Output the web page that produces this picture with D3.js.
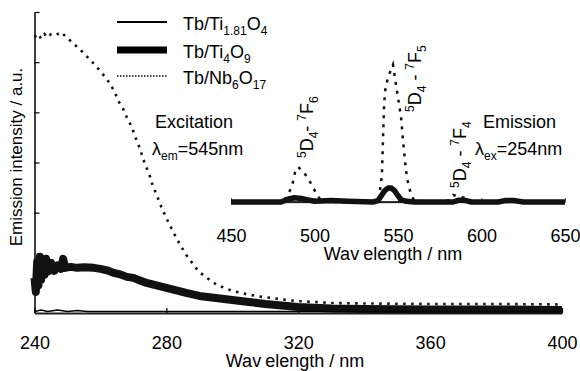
<!DOCTYPE html>
<html>
<head>
<meta charset="utf-8">
<script src="https://cdn.jsdelivr.net/npm/d3@7"></script>
<style>
    body { margin: 0; background: #fff; }
    svg text { font-family: "Liberation Sans", Arial, Helvetica, sans-serif; fill: #000; }
</style>
</head>
<body>
<svg id="chart" width="580" height="371"></svg>
<script>
// excitation spectra (lambda_em = 545 nm), main axes
const excTicksX = [240, 280, 320, 360, 400];
const excTicksY = [1, 2, 3, 4, 5, 6];
const excNb6O17 = [[240, 5.50], [241, 5.57], [242, 5.47], [243, 5.56], [244, 5.49], [245, 5.56], [246.5, 5.54],
    [248, 5.60], [250, 5.48], [252, 5.36], [254, 5.24], [257, 5.04], [260.5, 4.78], [262.6, 4.60], [264.4, 4.40],
    [265.3, 4.24], [266.8, 4.08], [268, 3.90], [269.5, 3.71], [270.7, 3.49], [271.9, 3.29], [273.4, 2.99],
    [274.9, 2.75], [275.8, 2.55], [277.3, 2.31], [278.5, 2.11], [280, 1.89], [281.8, 1.65], [283.9, 1.39],
    [286, 1.16], [287.8, 1.00], [289.9, 0.82], [292.3, 0.70], [295.3, 0.56], [300, 0.44], [304, 0.38],
    [308, 0.33], [314, 0.28], [319, 0.24], [325, 0.22], [330, 0.20], [340, 0.19], [360, 0.18], [380, 0.18], [400, 0.17]];
const excTi4O9 = [[240, 0.70], [240.4, 0.42], [240.8, 1.02], [241.2, 0.55], [241.6, 1.12], [242, 0.66], [242.5, 1.05],
    [243, 0.76], [243.5, 1.08], [244, 0.82], [245, 1.00], [246, 0.84], [247, 0.95], [248, 0.88], [248.7, 1.08],
    [249.3, 0.90], [251, 0.92], [253, 0.90], [255, 0.91], [258, 0.90], [260, 0.88], [262, 0.85], [264, 0.80],
    [266, 0.77], [268, 0.72], [270, 0.70], [272, 0.65], [274, 0.60], [277, 0.55], [280, 0.50], [283, 0.45],
    [286, 0.40], [290, 0.34], [295, 0.30], [300, 0.26], [305, 0.22], [310, 0.18], [315, 0.15], [320, 0.12],
    [330, 0.09], [340, 0.08], [360, 0.07], [380, 0.07], [400, 0.06]];
const excTi181O4 = [[240, 0.03], [242, 0.06], [244, 0.03], [247, 0.06], [250, 0.03], [253, 0.05], [256, 0.03],
    [300, 0.03], [400, 0.03]];

// emission spectra (lambda_ex = 254 nm), inset axes
const emTicksX = [450, 500, 550, 600, 650];
const emNb6O17 = [[450, 0], [478, 0], [481, 0.01], [483, 0.03], [486.5, 0.11], [488.3, 0.21], [490.1, 0.25],
    [493.1, 0.22], [495.5, 0.18], [498.5, 0.12], [501.5, 0.05], [504, 0.01], [510, 0], [535, 0], [537, 0.01],
    [538.6, 0.03], [539.2, 0.08], [540.4, 0.20], [541, 0.44], [541.6, 0.67], [542.2, 0.79], [544, 0.89],
    [547, 0.98], [549.4, 0.79], [551.8, 0.61], [553, 0.44], [554.2, 0.29], [555.4, 0.17], [557.2, 0.08],
    [559.6, 0.01], [570, 0], [580, 0.01], [583, 0.05], [586, 0.04], [590, 0.03], [594, 0], [650, 0]];
const emTi4O9 = [[450, 0], [480, 0], [484, 0.02], [488, 0.03], [492, 0.025], [496, 0.015], [500, 0.005],
    [510, 0.01], [520, 0.005], [535, 0], [538, 0.01], [540, 0.045], [542, 0.08], [544, 0.10], [546, 0.10],
    [548, 0.08], [550, 0.045], [552, 0.015], [555, 0.005], [560, 0], [583, 0], [586, 0.012], [590, 0.012],
    [594, 0], [610, 0], [614, 0.01], [620, 0.01], [625, 0], [650, 0]];
const emTi181O4 = [[450, 0], [650, 0]];

// legend labels as [text, subscript?] parts
const legendLabels = [
    [['Tb/Ti', 0], ['1.81', 1], ['O', 0], ['4', 1]],
    [['Tb/Ti', 0], ['4', 1], ['O', 0], ['9', 1]],
    [['Tb/Nb', 0], ['6', 1], ['O', 0], ['17', 1]]
];
// transition labels: [text, shift] where shift -1 = sup, 1 = sub
const peakLabels = [
    [['5', -1], ['D', 0], ['4', 1], ['- ', 0], ['7', -1], ['F', 0], ['6', 1]],
    [['5', -1], ['D', 0], ['4', 1], [' - ', 0], ['7', -1], ['F', 0], ['5', 1]],
    [['5', -1], ['D', 0], ['4', 1], [' - ', 0], ['7', -1], ['F', 0], ['4', 1]]
];

let svg = d3.select('#chart');

let config = {
    main: { left: 34.5, right: 562, top: 12, bottom: 313 },
    inset: { left: 231, right: 565, top: 62, bottom: 202 },
    fontSize: 18,
    subSize: 12
};

let x = d3.scaleLinear().domain([240, 400]).range([config.main.left, config.main.right]);
let y = d3.scaleLinear().domain([0, 6]).range([config.main.bottom, config.main.top]);
let xi = d3.scaleLinear().domain([450, 650]).range([config.inset.left, config.inset.right]);
let yi = d3.scaleLinear().domain([0, 1]).range([config.inset.bottom, config.inset.top]);

function writeParts(text, parts, mode) {
    // mode 'sub' only uses subscripts, shift: -1 sup, 1 sub
    let prev = 0;
    parts.forEach(function(p) {
        let shift = p[1];
        if (mode === 'sub') shift = p[1] ? 1 : 0;
        let dy = (shift - prev) * (shift === -1 || prev === -1 ? 7 : 5);
        text.append('tspan')
            .attr('dy', dy)
            .style('font-size', (shift === 0 ? config.fontSize : config.subSize) + 'px')
            .text(p[0]);
        prev = shift;
    });
}

// ---- main axes
let xAxis = d3.axisBottom(x).tickValues(excTicksX).tickSize(-5).tickSizeOuter(0).tickPadding(23);
let gx = svg.append('g').attr('transform', 'translate(0,' + config.main.bottom + ')').call(xAxis);
gx.select('.domain').attr('stroke', '#222').attr('stroke-width', 2);
gx.selectAll('.tick line').attr('stroke', '#000').attr('stroke-width', 1.2);
gx.selectAll('.tick text').style('font-size', config.fontSize + 'px').style('font-family', null);

let yAxis = d3.axisLeft(y).tickValues(excTicksY).tickSize(-5).tickSizeOuter(0).tickFormat('');
let gy = svg.append('g').attr('transform', 'translate(' + config.main.left + ',0)').call(yAxis);
gy.select('.domain').attr('stroke', '#000').attr('stroke-width', 1.5);
gy.selectAll('.tick line').attr('stroke', '#000').attr('stroke-width', 1.2);

// ---- inset axis
let xiAxis = d3.axisBottom(xi).tickValues(emTicksX).tickSize(-4).tickSizeOuter(0).tickPadding(27);
let gxi = svg.append('g').attr('transform', 'translate(0,' + config.inset.bottom + ')').call(xiAxis);
gxi.select('.domain').attr('stroke', '#777').attr('stroke-width', 1.5);
gxi.selectAll('.tick line').attr('stroke', '#555');
gxi.selectAll('.tick text').style('font-size', config.fontSize + 'px').style('font-family', null);

// ---- spectra
let line = d3.line().x(function(d) { return x(d[0]); }).y(function(d) { return y(d[1]); });
let lineI = d3.line().x(function(d) { return xi(d[0]); }).y(function(d) { return yi(d[1]); });

svg.append('path').datum(excTi4O9).attr('d', line)
    .attr('fill', 'none').attr('stroke', '#111').attr('stroke-width', 8).attr('stroke-linejoin', 'round');
svg.append('path').datum(excTi181O4).attr('d', line)
    .attr('fill', 'none').attr('stroke', '#000').attr('stroke-width', 1.5);
svg.append('path').datum(excNb6O17).attr('d', line)
    .attr('fill', 'none').attr('stroke', '#111').attr('stroke-width', 2.6).attr('stroke-dasharray', '2.5,5.5');

svg.append('path').datum(emTi181O4).attr('d', lineI)
    .attr('fill', 'none').attr('stroke', '#000').attr('stroke-width', 1.5);
svg.append('path').datum(emTi4O9).attr('d', lineI)
    .attr('fill', 'none').attr('stroke', '#111').attr('stroke-width', 5.5).attr('stroke-linejoin', 'round');
svg.append('path').datum(emNb6O17).attr('d', lineI)
    .attr('fill', 'none').attr('stroke', '#111').attr('stroke-width', 2.5).attr('stroke-dasharray', '3,6');

// ---- axis titles
let xt = svg.append('text').attr('x', 295).attr('y', 367).attr('text-anchor', 'middle')
    .style('font-size', config.fontSize + 'px');
xt.append('tspan').text('Wav');
xt.append('tspan').attr('dx', 4).text('elength / nm');

let xti = svg.append('text').attr('x', 393).attr('y', 260).attr('text-anchor', 'middle')
    .style('font-size', config.fontSize + 'px');
xti.append('tspan').text('Wav');
xti.append('tspan').attr('dx', 4).text('elength / nm');

svg.append('text').attr('transform', 'translate(22,157) rotate(-90)').attr('text-anchor', 'middle')
    .style('font-size', '17px').text('Emission intensity / a.u.');

// ---- legend
let legendStyles = [
    { w: 2, dash: null },
    { w: 7, dash: null },
    { w: 1.5, dash: '1.5,1.5' }
];
let legendRowY = [22, 50, 76];
legendLabels.forEach(function(parts, i) {
    svg.append('line').attr('x1', 117).attr('x2', 167).attr('y1', legendRowY[i]).attr('y2', legendRowY[i])
        .attr('stroke', '#000').attr('stroke-width', legendStyles[i].w)
        .attr('stroke-dasharray', legendStyles[i].dash);
    let t = svg.append('text').attr('x', 183).attr('y', legendRowY[i] + 7.5)
        .style('font-size', config.fontSize + 'px');
    writeParts(t, parts, 'sub');
});

// ---- annotations
svg.append('text').attr('x', 155).attr('y', 128).style('font-size', config.fontSize + 'px').text('Excitation');
let lem = svg.append('text').attr('x', 152).attr('y', 155).style('font-size', config.fontSize + 'px');
writeParts(lem, [['\u03bb', 0], ['em', 1], ['=545nm', 0]], 'sub');

svg.append('text').attr('x', 483).attr('y', 128).style('font-size', config.fontSize + 'px').text('Emission');
let lex = svg.append('text').attr('x', 475).attr('y', 155).style('font-size', config.fontSize + 'px');
writeParts(lex, [['\u03bb', 0], ['ex', 1], ['=254nm', 0]], 'sub');

let peakPos = [[313, 158], [421, 112], [466, 188]];
peakLabels.forEach(function(parts, i) {
    let t = svg.append('text')
        .attr('transform', 'translate(' + peakPos[i][0] + ',' + peakPos[i][1] + ') rotate(-90)')
        .style('font-size', config.fontSize + 'px');
    writeParts(t, parts, 'full');
});
</script>
</body>
</html>
